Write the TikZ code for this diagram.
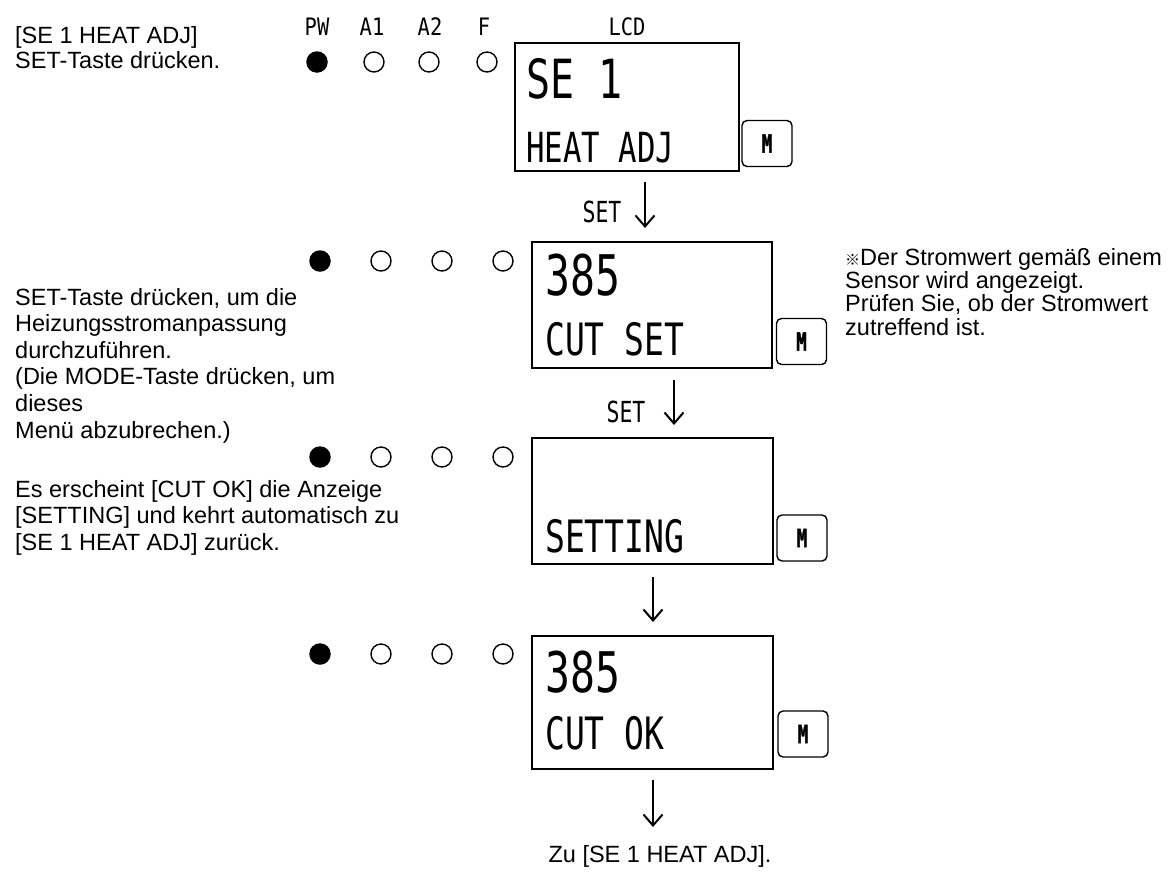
\documentclass[tikz,border=0pt]{standalone}
\usepackage{fontspec}
\setmainfont{Liberation Sans}
\newfontfamily\lcdfont[FakeStretch=0.74]{DejaVu Sans Mono}
\newfontfamily\hdrfont[FakeStretch=0.85]{DejaVu Sans Mono}
\newfontfamily\lcdbold[FakeStretch=0.7,FakeBold=1.5]{DejaVu Sans Mono Bold}
\newfontfamily\cjkfont{Noto Sans CJK JP}
\usetikzlibrary{arrows.meta}
\tikzset{
  lcdbox/.style={draw, line width=1.1pt, inner sep=0pt, outer sep=0pt},
  mbtn/.style={draw, rounded corners=5pt, line width=1.4pt, minimum width=50pt, minimum height=46pt, inner sep=0pt, font=\lcdbold\fontsize{25}{25}\selectfont},
  ledon/.style={circle, fill=black, minimum size=21.5pt, inner sep=0pt},
  ledoff/.style={circle, draw, line width=1.4pt, minimum size=20pt, inner sep=0pt},
  bigtxt/.style={anchor=base west, inner sep=0pt, font=\lcdfont\fontsize{56}{56}\selectfont},
  smalltxt/.style={anchor=base west, inner sep=0pt, font=\lcdfont\fontsize{44.6}{44.6}\selectfont},
  hdr/.style={anchor=base, inner sep=0pt, font=\hdrfont\fontsize{24}{24}\selectfont},
  setlbl/.style={anchor=base, inner sep=0pt, font=\lcdfont\fontsize{29}{29}\selectfont},
  flow/.style={line width=2pt, -{Straight Barb[length=11pt,width=19pt]}},
  txt/.style={anchor=base west, inner sep=0pt, font=\fontsize{23.5}{26.5}\selectfont},
}
\begin{document}
\begin{tikzpicture}[x=1pt,y=-1pt]
\useasboundingbox (0,0) rectangle (1173,871);

% headers
\node[hdr] (hpw) at (317,35) {PW};
\node[hdr] (ha1) at (372,35) {A1};
\node[hdr] (ha2) at (430,35) {A2};
\node[hdr] (hf) at (484,35) {F};
\node[hdr] (hlcd) at (627,35) {LCD};

% LEDs row 1
\node[ledon] (pw1) at (317,62) {};
\node[ledoff] (aa1) at (374,62) {};
\node[ledoff] (ab1) at (429,62) {};
\node[ledoff] (f1) at (487,62) {};
% LEDs rows 2-4
\foreach \r/\y in {2/261,3/457,4/654}{
  \node[ledon] (pw\r) at (320,\y) {};
  \node[ledoff] (aa\r) at (381,\y) {};
  \node[ledoff] (ab\r) at (442,\y) {};
  \node[ledoff] (f\r) at (503,\y) {};
}

% LCD boxes
\node[lcdbox, minimum width=224pt, minimum height=128pt] (box1) at (627,107) {};
\node[lcdbox, minimum width=240pt, minimum height=126pt] (box2) at (652,305) {};
\node[lcdbox, minimum width=241pt, minimum height=126pt] (box3) at (652.5,501) {};
\node[lcdbox, minimum width=241pt, minimum height=133pt] (box4) at (652.5,702.5) {};

% LCD texts
\node[bigtxt, font=\lcdfont\fontsize{54}{54}\selectfont] (t1a) at (526,98) {SE 1};
\node[smalltxt, font=\lcdfont\fontsize{41.5}{41.5}\selectfont] (t1b) at (526,162) {HEAT ADJ};
\node[bigtxt] (t2a) at (545,295) {385};
\node[smalltxt] (t2b) at (545,355) {CUT SET};
\node[smalltxt] (t3b) at (545,552) {SETTING};
\node[bigtxt] (t4a) at (545,692) {385};
\node[smalltxt] (t4b) at (545,749) {CUT OK};

% M buttons
\node[mbtn] (m1) at (767,143.5) {M};
\node[mbtn] (m2) at (801.5,341.5) {M};
\node[mbtn] (m3) at (802,538) {M};
\node[mbtn] (m4) at (803,734) {M};

% arrows
\coordinate (s1) at (645,182); \coordinate (e1) at (645,228);
\coordinate (s2) at (674,380); \coordinate (e2) at (674,425);
\coordinate (s3) at (653,577); \coordinate (e3) at (653,622);
\coordinate (s4) at (653,780); \coordinate (e4) at (653,827);
\draw[flow] (s1) -- (e1);
\draw[flow] (s2) -- (e2);
\draw[flow] (s3) -- (e3);
\draw[flow] (s4) -- (e4);
\node[setlbl] (set1) at (602,222) {SET};
\node[setlbl] (set2) at (626,422) {SET};

% left texts
\node[txt] (l1a) at (15,43) {[SE 1 HEAT ADJ]};
\node[txt] (l1b) at (15,68) {SET-Taste drücken.};

\node[txt] (l2a) at (15,305) {SET-Taste drücken, um die};
\node[txt] (l2b) at (15,331.6) {Heizungsstromanpassung};
\node[txt] (l2c) at (15,358.2) {durchzuführen.};
\node[txt] (l2d) at (15,384.8) {(Die MODE-Taste drücken, um};
\node[txt] (l2e) at (15,411.4) {dieses};
\node[txt] (l2f) at (15,438) {Menü abzubrechen.)};

\node[txt] (l3a) at (15,497) {Es erscheint [CUT OK] die Anzeige};
\node[txt] (l3b) at (15,523.5) {[SETTING] und kehrt automatisch zu};
\node[txt] (l3c) at (15,550) {[SE 1 HEAT ADJ] zurück.};

% note
\node[txt] (n1) at (845,265) {{\cjkfont\fontsize{15}{15}\selectfont ※}Der Stromwert gemäß einem};
\node[txt] (n2) at (845,288.3) {Sensor wird angezeigt.};
\node[txt] (n3) at (845,311.6) {Prüfen Sie, ob der Stromwert};
\node[txt] (n4) at (845,335) {zutreffend ist.};

% bottom
\node[txt, anchor=base] (zu) at (660,862) {Zu [SE 1 HEAT ADJ].};
\end{tikzpicture}
\end{document}
